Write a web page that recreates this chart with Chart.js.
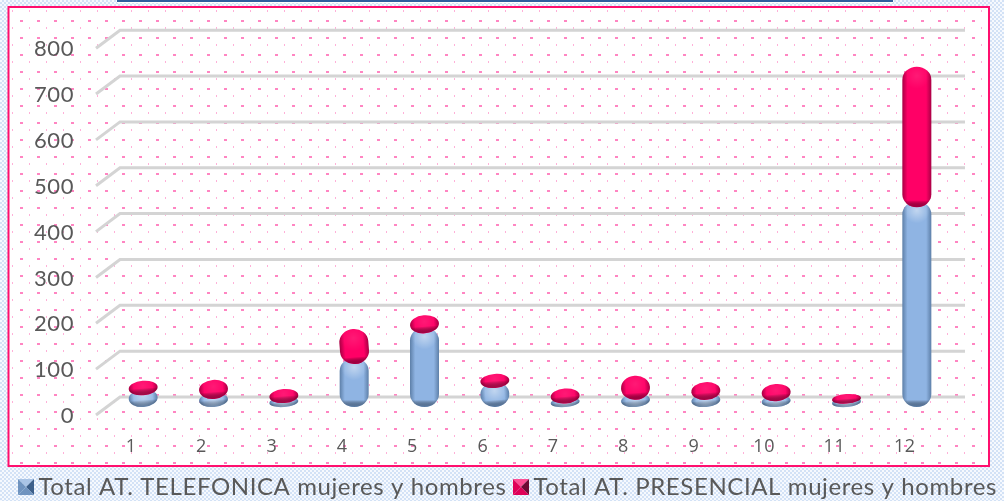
<!DOCTYPE html>
<html>
<head>
<meta charset="utf-8">
<script src="https://cdn.jsdelivr.net/npm/chart.js@4"></script>
<style>
html, body { margin: 0; padding: 0; background: #fff; }
#wrap { width: 1004px; height: 501px; position: relative; overflow: hidden; }
</style>
</head>
<body>
<div id="wrap"><canvas id="myChart" width="1004" height="501"></canvas></div>
<script>
var categories = ["1", "2", "3", "4", "5", "6", "7", "8", "9", "10", "11", "12"];
var telefonica = [30, 22, 13, 98, 165, 46, 12, 20, 20, 17, 12, 440];
var presencial = [25, 35, 24, 70, 33, 24, 26, 46, 32, 31, 14, 300];
var seriesNames = ["Total AT. TELEFONICA mujeres y hombres", "Total AT. PRESENCIAL mujeres y hombres"];
var yTicks = [0, 100, 200, 300, 400, 500, 600, 700, 800];

var textColor = '#595959';
var blue = '#8fb4e3';
var red = '#ff0066';
var fontName = 'Lato, "Open Sans", sans-serif';
var spacing = '0.6px';

// small repeating tiles for the slide background
function tile(w, h, paint) {
    var c = document.createElement('canvas');
    c.width = w; c.height = h;
    paint(c.getContext('2d'));
    return c;
}
var checkTile = tile(4, 4, function (t) {
    t.fillStyle = '#d3e2f6';
    t.fillRect(0, 0, 4, 4);
    t.fillStyle = '#f6f9fe';
    t.fillRect(0, 0, 2, 2);
    t.fillRect(2, 2, 2, 2);
});
var dotTile = tile(17, 17, function (t) {
    t.fillStyle = '#ffffff';
    t.fillRect(0, 0, 17, 17);
    t.fillStyle = '#ff85c2';
    t.fillRect(3, 3, 3, 2);
    t.fillStyle = '#ffb0d8';
    t.fillRect(12, 10, 1, 2);
});

// pyramid style legend marker
function marker(light, mid, dark) {
    return tile(16, 16, function (t) {
        var faces = [
            [0, 0, 16, 0, light],
            [16, 0, 16, 16, dark],
            [16, 16, 0, 16, mid],
            [0, 16, 0, 0, mid]
        ];
        faces.forEach(function (f) {
            t.fillStyle = f[4];
            t.beginPath();
            t.moveTo(f[0], f[1]);
            t.lineTo(f[2], f[3]);
            t.lineTo(8, 8);
            t.closePath();
            t.fill();
        });
    });
}
var markers = [marker('#a9c4e6', '#6f93bf', '#3c5f8a'), marker('#ff4d94', '#e00058', '#6e0a34')];

var backgroundPlugin = {
    id: 'background',
    beforeLayout: function (chart) {
        chart.ctx.letterSpacing = spacing;
    },
    // legend runs tight against the canvas edges, nudge it after the layout is done
    afterLayout: function (chart) {
        var l = chart.legend;
        l.left += 7; l.right += 7;
        l.top += 8; l.bottom += 8;
    },
    beforeDraw: function (chart) {
        var c = chart.ctx;
        c.letterSpacing = spacing;
        c.save();
        c.fillStyle = c.createPattern(checkTile, 'repeat');
        c.fillRect(0, 0, 1004, 501);
        c.fillStyle = '#ffffff';
        c.fillRect(117, 0, 776, 3);
        c.fillStyle = '#2f5f9e';
        c.fillRect(117, 0, 776, 2);
        c.fillStyle = c.createPattern(dotTile, 'repeat');
        c.fillRect(9, 7, 980, 459);
        c.strokeStyle = '#ff0f6e';
        c.lineWidth = 2;
        c.strokeRect(8.5, 7, 980.5, 459);
        c.restore();
    },
    // floor and back wall lines with the 3D slant
    beforeDatasetsDraw: function (chart) {
        var c = chart.ctx, y = chart.scales.y, area = chart.chartArea;
        c.save();
        c.strokeStyle = '#d4d4d4';
        c.lineWidth = 3;
        yTicks.forEach(function (v) {
            var p = y.getPixelForValue(v);
            c.beginPath();
            c.moveTo(area.left - 12, p + 9);
            c.lineTo(area.left + 12, p - 9);
            c.lineTo(area.right + 13, p - 9);
            c.stroke();
        });
        c.restore();
    },
    // red sits on top of blue, chart.js would paint them the other way round
    beforeDatasetDraw: function (chart, args) {
        if (args.index === 0) return false;
        chart.getDatasetMeta(0).controller.draw();
    }
};

// bars in the reference are soft 3D capsules, small ones end up as tilted ellipses
Chart.BarElement.prototype.draw = function (c) {
    var p = this.getProps(['x', 'y', 'base', 'width', 'height']);
    var color = this.options.backgroundColor;
    var isRed = color === red;
    var top = Math.min(p.y, p.base), bottom = Math.max(p.y, p.base);
    var full = bottom - top;
    if (isRed) {
        bottom += 3;
    } else {
        top -= 3;
        bottom += 1;
    }
    var h = bottom - top, w = p.width, x = p.x, cy = (top + bottom) / 2;
    var rx = w / 2, ry = Math.min(h / 2, 13);
    var dark = isRed ? '#a80044' : '#5d7fa8';

    c.save();
    c.translate(x, cy);
    if (full < 34) c.rotate(-0.08);
    c.beginPath();
    c.ellipse(0, -h / 2 + ry, rx, ry, 0, Math.PI, Math.PI * 2);
    c.ellipse(0, h / 2 - ry, rx, ry, 0, 0, Math.PI);
    c.closePath();

    var g = c.createLinearGradient(-rx, 0, rx, 0);
    g.addColorStop(0, dark);
    g.addColorStop(0.18, color);
    g.addColorStop(0.82, color);
    g.addColorStop(1, dark);
    c.fillStyle = g;
    c.fill();
    c.clip();

    var v = c.createLinearGradient(0, -h / 2, 0, h / 2);
    var edge = Math.min(0.5, 7 / Math.max(h, 1));
    v.addColorStop(0, 'rgba(0,0,0,0)');
    v.addColorStop(1 - edge, 'rgba(0,0,0,0)');
    v.addColorStop(1, dark);
    c.fillStyle = v;
    c.fillRect(-rx, -h / 2, w, h);

    var r = c.createRadialGradient(0, -h / 2 + ry * 0.7, 0, 0, -h / 2 + ry * 0.7, rx * 0.9);
    r.addColorStop(0, 'rgba(255,255,255,' + (isRed ? 0.1 : 0.45) + ')');
    r.addColorStop(1, 'rgba(255,255,255,0)');
    c.fillStyle = r;
    c.fillRect(-rx, -h / 2, w, h);
    c.restore();
};

var ctx = document.getElementById('myChart').getContext('2d');
var chart = new Chart(ctx, {
    type: 'bar',
    data: {
        labels: categories,
        datasets: [{
            label: seriesNames[0],
            backgroundColor: blue,
            data: telefonica
        }, {
            label: seriesNames[1],
            backgroundColor: red,
            data: presencial
        }]
    },
    plugins: [backgroundPlugin],
    options: {
        responsive: false,
        animation: false,
        layout: { padding: { top: 26, right: 0, left: 0, bottom: 0 } },
        datasets: { bar: { barThickness: 29 } },
        scales: {
            x: {
                stacked: true,
                grid: { display: false },
                border: { display: false },
                afterFit: function (s) { s.height = 47; },
                ticks: {
                    color: textColor,
                    labelOffset: -12,
                    padding: 22,
                    maxRotation: 0,
                    font: { family: '"Open Sans", sans-serif', size: 18 }
                }
            },
            y: {
                stacked: true,
                min: 0,
                max: 800,
                grid: { display: false },
                border: { display: false },
                afterFit: function (s) { s.width = 108; },
                afterBuildTicks: function (s) {
                    s.ticks = yTicks.map(function (v) { return { value: v }; });
                },
                ticks: {
                    color: textColor,
                    labelOffset: 10,
                    padding: 26,
                    font: { family: fontName, size: 22 }
                }
            },
            // empty axis, only keeps the plot clear of the right edge without squeezing the legend
            spare: {
                position: 'right',
                grid: { display: false },
                border: { display: false },
                ticks: { display: false },
                afterFit: function (s) { s.width = 52; }
            }
        },
        plugins: {
            tooltip: { enabled: false },
            legend: {
                position: 'bottom',
                align: 'end',
                labels: {
                    color: textColor,
                    usePointStyle: true,
                    boxWidth: 1,
                    boxHeight: 1,
                    padding: 14,
                    font: { family: fontName, size: 24 },
                    generateLabels: function (c) {
                        return Chart.defaults.plugins.legend.labels.generateLabels(c).map(function (item, i) {
                            item.pointStyle = markers[i];
                            return item;
                        });
                    }
                }
            }
        }
    }
});
</script>
</body>
</html>
